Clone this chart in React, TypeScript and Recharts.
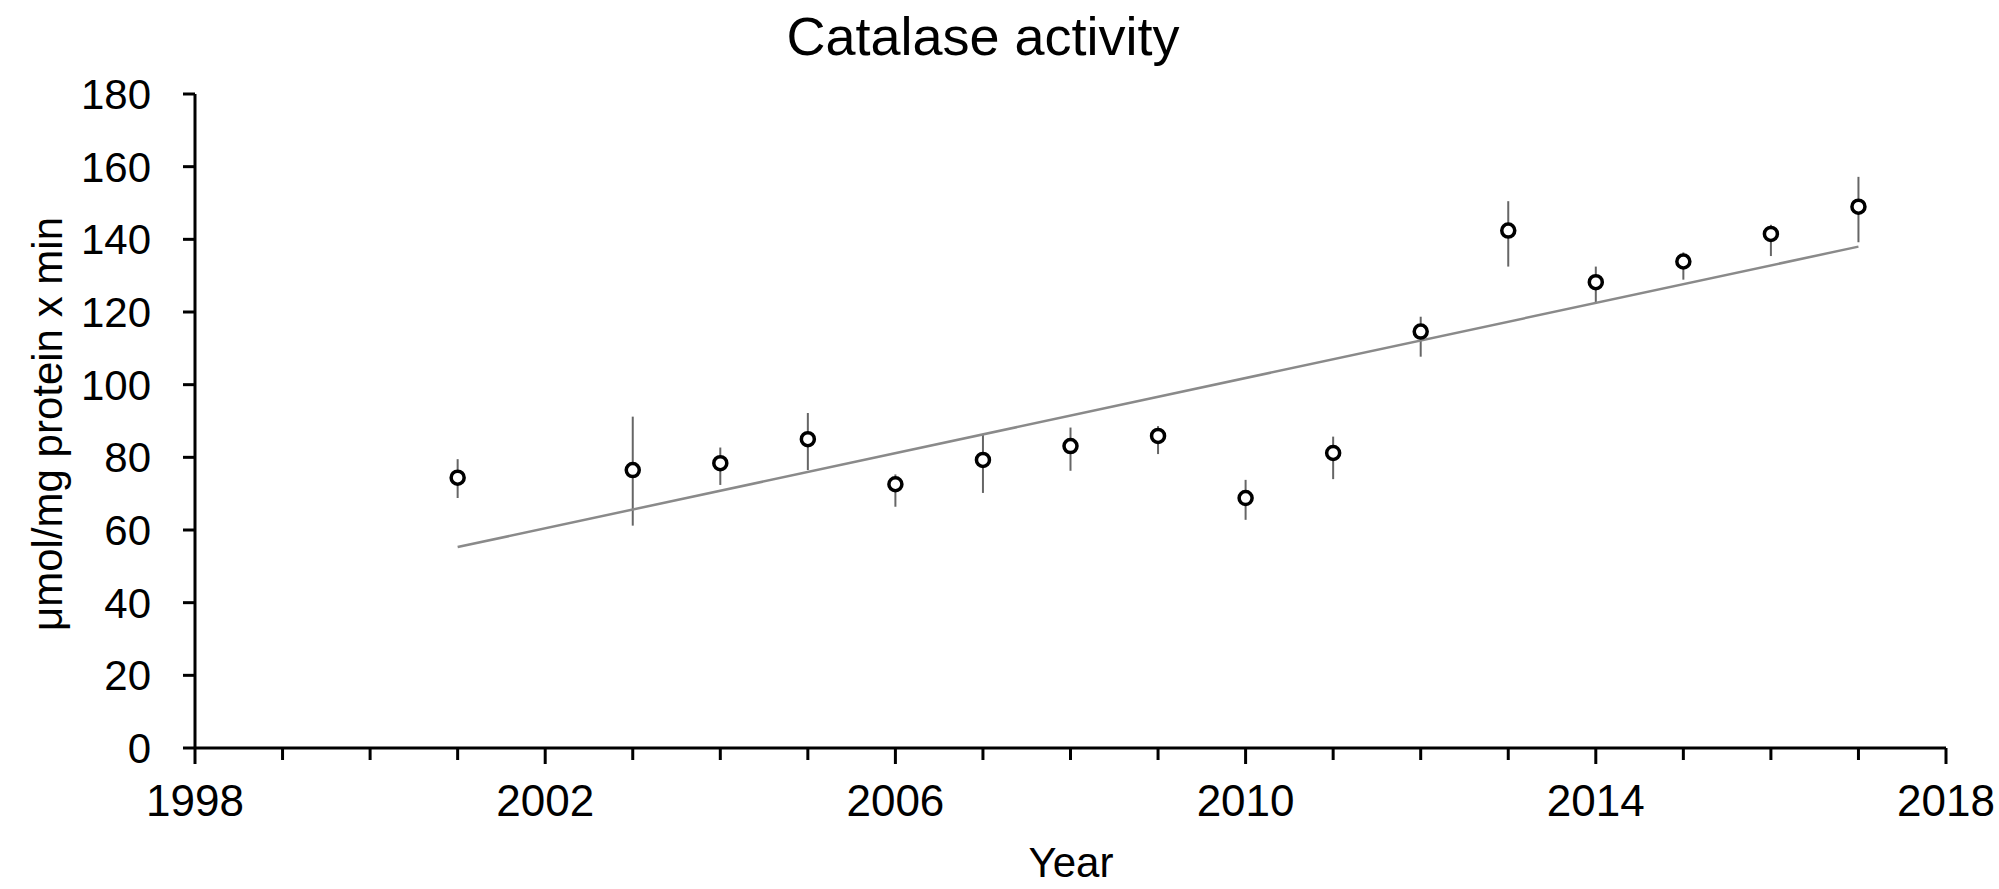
import React from 'react'
import { ScatterChart, Scatter, XAxis, YAxis, ErrorBar, Label } from 'recharts'

// Catalase activity per year (mean with lower / upper error bounds)
const years = [2001, 2003, 2004, 2005, 2006, 2007, 2008, 2009, 2010, 2011, 2012, 2013, 2014, 2015, 2016, 2017]
const means = [74.4, 76.5, 78.4, 85.0, 72.6, 79.3, 83.1, 85.9, 68.8, 81.2, 114.6, 142.4, 128.2, 133.9, 141.5, 149.0]
const lowerBounds = [68.8, 61.2, 72.4, 76.5, 66.4, 70.2, 76.3, 80.9, 62.8, 74.0, 107.7, 132.5, 122.3, 128.9, 135.4, 139.2]
const upperBounds = [79.5, 91.2, 82.7, 92.2, 75.3, 86.2, 88.2, 88.6, 73.8, 85.7, 118.7, 150.5, 132.5, 136.4, 144.0, 157.2]

// linear trend, read at its two ends
const trendYears = [2001, 2017]
const trendValues = [55.3, 138.0]

const xTicks = [1998, 1999, 2000, 2001, 2002, 2003, 2004, 2005, 2006, 2007, 2008, 2009, 2010, 2011, 2012, 2013, 2014, 2015, 2016, 2017, 2018]
const xLabels = [1998, 2002, 2006, 2010, 2014, 2018]
const yTicks = [0, 20, 40, 60, 80, 100, 120, 140, 160, 180]

const FONT = '"Liberation Sans", Arial, sans-serif'

const points = years.map((year, i) => ({
  year,
  value: means[i],
  err: [means[i] - lowerBounds[i], upperBounds[i] - means[i]]
}))

const trend = trendYears.map((year, i) => ({ year, value: trendValues[i] }))

// year ticks: every year a short tick, every fourth year a longer one with its label
function YearTick({ x, y, payload }: any) {
  const major = xLabels.includes(payload.value)
  return (
    <g>
      <line x1={x} x2={x} y1={y} y2={y + (major ? 16 : 12)} stroke="#000" strokeWidth={3} />
      {major && (
        <text x={x} y={y + 68} textAnchor="middle" fontSize={44} fontFamily={FONT} fill="#000">
          {payload.value}
        </text>
      )}
    </g>
  )
}

function Marker({ cx, cy }: any) {
  return <circle cx={cx} cy={cy} r={6.5} fill="#fff" stroke="#000" strokeWidth={3.5} />
}

export default function App() {
  return (
    <div style={{ position: 'absolute', left: 0, top: 0, width: 1999, height: 889, background: '#fff' }}>
      <div
        style={{
          position: 'absolute',
          left: 483,
          top: 9,
          width: 1000,
          textAlign: 'center',
          fontFamily: FONT,
          fontSize: 54,
          lineHeight: '54px',
          color: '#000'
        }}
      >
        Catalase activity
      </div>
      <ScatterChart width={1999} height={889} margin={{ top: 94, right: 53, left: 0, bottom: 0 }}>
        <XAxis
          type="number"
          dataKey="year"
          domain={[1998, 2018]}
          ticks={xTicks}
          interval={0}
          tick={<YearTick />}
          tickLine={false}
          tickSize={0}
          tickMargin={0}
          axisLine={{ stroke: '#000', strokeWidth: 3 }}
          height={141}
        >
          <Label
            content={() => (
              <text x={1071} y={877} textAnchor="middle" fontSize={42} fontFamily={FONT} fill="#000">
                Year
              </text>
            )}
          />
        </XAxis>
        <YAxis
          type="number"
          dataKey="value"
          domain={[0, 180]}
          ticks={yTicks}
          interval={0}
          width={195}
          tickSize={12}
          tickMargin={32}
          tick={{ fill: '#000', fontSize: 42, fontFamily: FONT }}
          tickLine={{ stroke: '#000', strokeWidth: 3 }}
          axisLine={{ stroke: '#000', strokeWidth: 3 }}
        >
          <Label
            content={() => (
              <text
                x={47}
                y={424}
                transform="rotate(-90, 47, 424)"
                textAnchor="middle"
                dominantBaseline="central"
                fontSize={42}
                fontFamily={FONT}
                fill="#000"
              >
                μmol/mg protein x min
              </text>
            )}
          />
        </YAxis>
        <Scatter
          data={trend}
          line={{ stroke: '#8a8a8a', strokeWidth: 2.5 }}
          shape={() => <g />}
          isAnimationActive={false}
        />
        <Scatter data={points} shape={<Marker />} isAnimationActive={false}>
          <ErrorBar dataKey="err" direction="y" width={0} stroke="#666" strokeWidth={2} />
        </Scatter>
      </ScatterChart>
    </div>
  )
}
